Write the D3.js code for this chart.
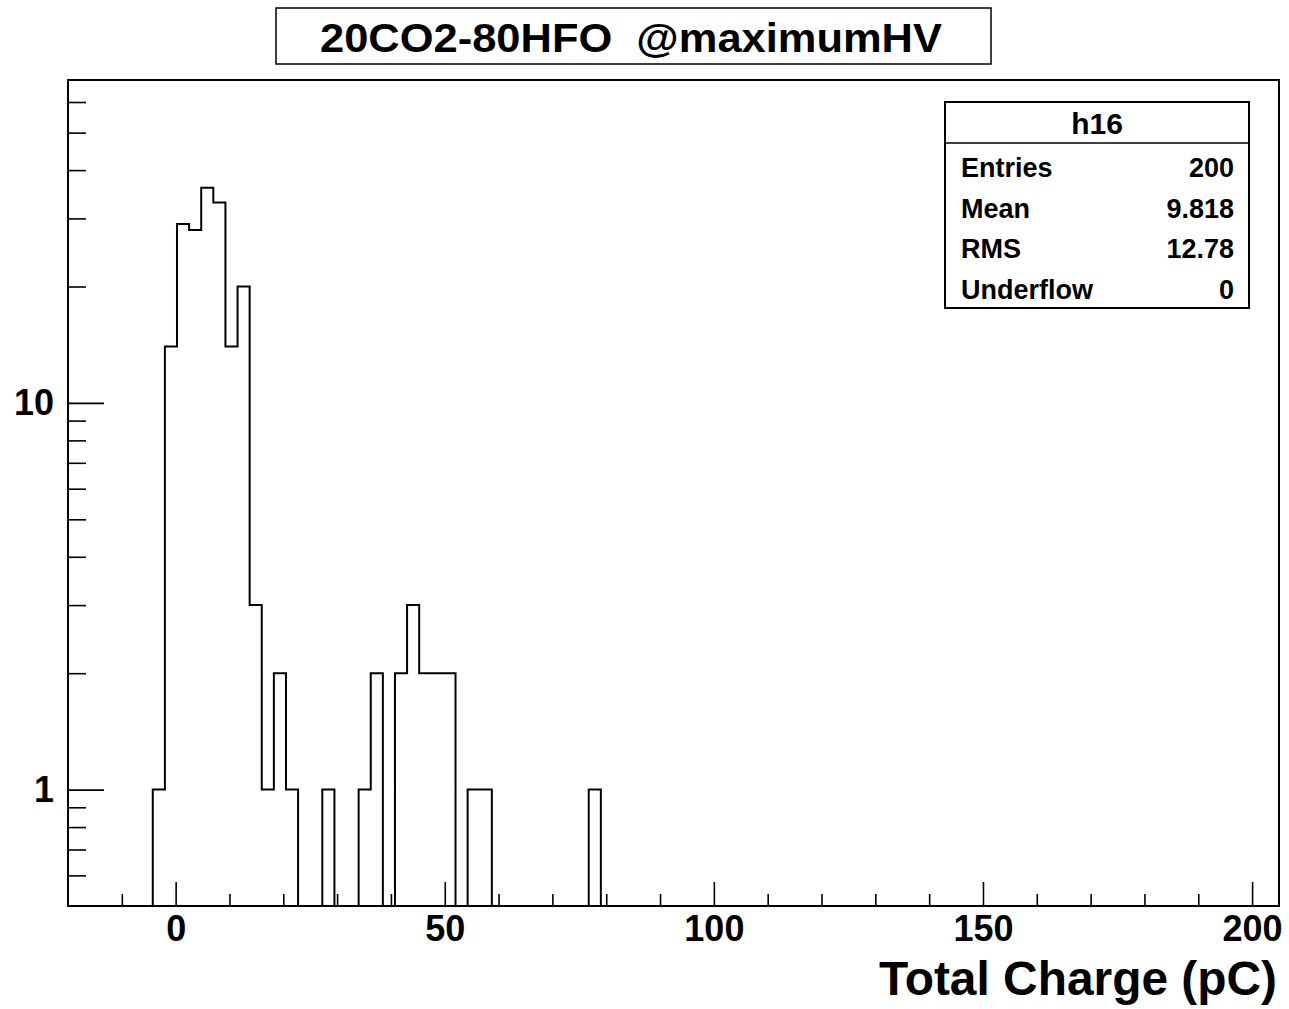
<!DOCTYPE html>
<html lang="en">
<head>
    <meta charset="UTF-8">
    <title>20CO2-80HFO @maximumHV</title>
    <script src="https://d3js.org/d3.v7.min.js"></script>
    <style>
        body { margin: 0; background: white; }
        svg text { font-family: "Liberation Sans", Arial, Helvetica, sans-serif; font-weight: bold; fill: black; }
        .axis path { display: none; }
        .axis line { stroke: black; stroke-width: 1.6; }
        .axis text { font-size: 36px; }
    </style>
</head>
<body>
    <svg id="chart" width="1289" height="1009"></svg>

    <script>
        // histogram binning: 100 bins from -20 to 205
        const nBins = 100, xMin = -20, xMax = 205;
        // non-empty bins (index) and their entries
        const binIndex = [7, 8, 9, 10, 11, 12, 13, 14, 15, 16, 17, 18, 21, 24, 25, 27, 28, 29, 30, 31, 33, 34, 43];
        const binCount = [1, 14, 29, 28, 36, 33, 14, 20, 3, 1, 2, 1, 1, 1, 2, 2, 3, 2, 2, 2, 1, 1, 1];

        const xMajor = [0, 50, 100, 150, 200];
        const xMinor = [-10, 10, 20, 30, 40, 60, 70, 80, 90, 110, 120, 130, 140, 160, 170, 180, 190];
        const yMajor = [1, 10];
        const yMinor = [0.6, 0.7, 0.8, 0.9, 2, 3, 4, 5, 6, 7, 8, 9, 20, 30, 40, 50, 60];

        const titleText = "20CO2-80HFO  @maximumHV";
        const xTitle = "Total Charge (pC)";
        const statsName = "h16";
        const statsLabels = ["Entries", "Mean", "RMS", "Underflow"];
        const statsValues = ["200", "9.818", "12.78", "0"];

        const svg = d3.select("#chart");
        const frame = {left: 68, right: 1279, top: 80, bottom: 906};

        const x = d3.scaleLinear().domain([xMin, xMax]).range([frame.left, frame.right]);
        const y = d3.scaleLog().domain([0.5, 68.4]).range([frame.bottom, frame.top]);

        // full contents array
        const counts = new Array(nBins).fill(0);
        binIndex.forEach((b, i) => counts[b] = binCount[i]);
        const bw = (xMax - xMin) / nBins;
        const pts = [];
        counts.forEach((c, i) => {
            const v = c > 0 ? c : 0.5;
            pts.push([xMin + i * bw, v]);
            pts.push([xMin + (i + 1) * bw, v]);
        });

        svg.append("path")
            .attr("d", d3.line().x(d => x(d[0])).y(d => y(d[1]))(pts))
            .attr("fill", "none").attr("stroke", "black").attr("stroke-width", 2);

        // x axis
        svg.append("g").attr("class", "axis").attr("transform", `translate(0,${frame.bottom})`)
            .call(d3.axisBottom(x).tickValues(xMinor).tickSize(-12).tickFormat(""));
        svg.append("g").attr("class", "axis").attr("transform", `translate(0,${frame.bottom})`)
            .call(d3.axisBottom(x).tickValues(xMajor).tickSize(-24).tickPadding(9).tickFormat(d3.format("d")));

        // y axis
        svg.append("g").attr("class", "axis").attr("transform", `translate(${frame.left},0)`)
            .call(d3.axisLeft(y).tickValues(yMinor).tickSize(-18).tickFormat(""));
        svg.append("g").attr("class", "axis").attr("transform", `translate(${frame.left},0)`)
            .call(d3.axisLeft(y).tickValues(yMajor).tickSize(-36).tickPadding(14).tickFormat(d3.format("d")));

        // frame
        svg.append("rect").attr("x", frame.left).attr("y", frame.top)
            .attr("width", frame.right - frame.left).attr("height", frame.bottom - frame.top)
            .attr("fill", "none").attr("stroke", "black").attr("stroke-width", 2);

        // x title
        svg.append("text").attr("x", frame.right - 2).attr("y", 995)
            .attr("text-anchor", "end").style("font-size", "48px")
            .attr("textLength", 398).attr("lengthAdjust", "spacingAndGlyphs")
            .text(xTitle);

        // title box
        svg.append("rect").attr("x", 276).attr("y", 8).attr("width", 715).attr("height", 56)
            .attr("fill", "white").attr("stroke", "black").attr("stroke-width", 1.5);
        svg.append("text").attr("x", 631).attr("y", 52).attr("text-anchor", "middle")
            .style("font-size", "41px").style("white-space", "pre")
            .attr("textLength", 622).attr("lengthAdjust", "spacingAndGlyphs")
            .text(titleText);

        // stats box
        const sb = {x: 945, y: 102, w: 304, h: 206};
        svg.append("rect").attr("x", sb.x).attr("y", sb.y).attr("width", sb.w).attr("height", sb.h)
            .attr("fill", "white").attr("stroke", "black").attr("stroke-width", 2);
        svg.append("line").attr("x1", sb.x).attr("x2", sb.x + sb.w).attr("y1", 143).attr("y2", 143)
            .attr("stroke", "black").attr("stroke-width", 1.5);
        svg.append("text").attr("x", sb.x + sb.w / 2).attr("y", 134).attr("text-anchor", "middle")
            .style("font-size", "30px").text(statsName);
        statsLabels.forEach((lab, i) => {
            const by = 177 + i * 40.5;
            svg.append("text").attr("x", 961).attr("y", by).style("font-size", "27px").text(lab);
            svg.append("text").attr("x", 1234).attr("y", by).attr("text-anchor", "end")
                .style("font-size", "27px").text(statsValues[i]);
        });
    </script>
</body>
</html>
